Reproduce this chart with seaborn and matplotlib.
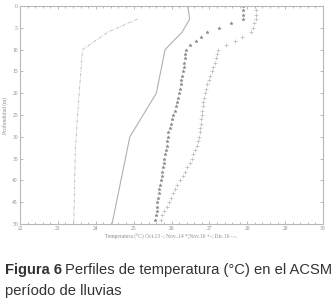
import numpy as np
import pandas as pd
import matplotlib
matplotlib.use("Agg")
import matplotlib.pyplot as plt
from matplotlib.ticker import MultipleLocator
import seaborn as sns

# Oct.13 - solid line (temp, depth)
oct13_temp = [26.43, 26.48, 26.28, 25.83, 25.60, 24.90, 24.43]
oct13_depth = [0, 3, 6, 10, 20, 30, 50]

# Dic.16 -.- dash-dot line
dic16_temp = [25.10, 24.32, 23.65, 23.52, 23.46, 23.42]
dic16_depth = [3, 6, 10, 25, 33, 50]

# Nov.14 * markers, one per metre from 0 to 49 m
nov14_temp = [27.88, 27.88, 27.88, 27.88, 27.57, 27.25, 26.93, 26.77, 26.66, 26.50,
              26.37, 26.36, 26.35, 26.33, 26.32, 26.30, 26.28, 26.26, 26.24, 26.22,
              26.20, 26.17, 26.14, 26.11, 26.08, 26.05, 26.02, 25.98, 25.95, 25.92,
              25.90, 25.89, 25.87, 25.85, 25.83, 25.81, 25.79, 25.78, 25.75, 25.74,
              25.71, 25.69, 25.68, 25.67, 25.65, 25.63, 25.61, 25.61, 25.58, 25.56]

# Nov.16 + markers, one per metre from 0 to 49 m
nov16_temp = [28.20, 28.23, 28.22, 28.22, 28.19, 28.16, 28.10, 27.87, 27.67, 27.45,
              27.23, 27.20, 27.17, 27.14, 27.10, 27.06, 27.02, 26.98, 26.95, 26.92,
              26.89, 26.86, 26.84, 26.82, 26.81, 26.80, 26.79, 26.78, 26.76, 26.74,
              26.72, 26.70, 26.68, 26.63, 26.58, 26.53, 26.49, 26.42, 26.36, 26.31,
              26.22, 26.15, 26.10, 26.04, 25.98, 25.93, 25.87, 25.81, 25.75, 25.71]
marker_depth = list(range(50))

sns.set_style("ticks")

fig = plt.figure(figsize=(3.36, 3.06), dpi=100)
ax = fig.add_axes([20 / 336, 1 - 224 / 306, 303 / 336, 218 / 306])

line_col = "#b0b0b0"
sns.lineplot(x=oct13_temp, y=oct13_depth, sort=False, orient="y", estimator=None,
             color=line_col, linewidth=0.8, ax=ax)
sns.lineplot(x=dic16_temp, y=dic16_depth, sort=False, orient="y", estimator=None,
             color="#b8b8b8", linewidth=0.6, linestyle=(0, (4, 1.5, 1, 1.5)), ax=ax)
sns.scatterplot(x=nov14_temp, y=marker_depth, marker="*", s=6, color="#8c8c8c",
                edgecolor="#8c8c8c", linewidth=0.3, ax=ax)
sns.scatterplot(x=nov16_temp, y=marker_depth, marker="+", s=6, color="#bababa",
                linewidth=0.5, ax=ax)

ax.set_xlim(22, 30)
ax.set_ylim(50, 0)
ax.xaxis.set_major_locator(MultipleLocator(1))
ax.xaxis.set_minor_locator(MultipleLocator(0.2))
ax.yaxis.set_major_locator(MultipleLocator(5))

tick_font = {"family": "Liberation Serif", "size": 4}
ax.tick_params(axis="both", which="both", direction="in", colors="#a0a0a0",
               labelsize=4, top=True, right=True, length=2, width=0.5, pad=1.5)
ax.tick_params(axis="both", which="minor", length=1.5)
for lab in ax.get_xticklabels() + ax.get_yticklabels():
    lab.set_family("Liberation Serif")
    lab.set_color("#8a8a8a")
for sp in ax.spines.values():
    sp.set_visible(True)
    sp.set_color("#b8b8b8")
    sp.set_linewidth(0.8)

ax.set_xlabel("Temperatura (°C) Oct.13 -; Nov..14 *;Nov.16 +-; Dic.16 -.-.",
              fontdict=tick_font, color="#8a8a8a", labelpad=2)
ax.set_ylabel("Profundidad (m)", fontdict=tick_font, color="#8a8a8a", labelpad=3)

# caption
cap_col = "#333333"
t1 = fig.text(5 / 336, 1 - 274 / 306, "Figura 6", fontsize=10.6, fontweight="bold",
              family="Liberation Sans", color=cap_col)
fig.canvas.draw()
bb = t1.get_window_extent()
fig.text(bb.x1 / fig.bbox.width + 3 / 336, 1 - 274 / 306,
         "Perfiles de temperatura (°C) en el ACSM", fontsize=10.6,
         family="Liberation Sans", color=cap_col)
fig.text(5 / 336, 1 - 295 / 306, "período de lluvias", fontsize=10.6,
         family="Liberation Sans", color=cap_col)

fig.savefig("out.png", dpi=100)
